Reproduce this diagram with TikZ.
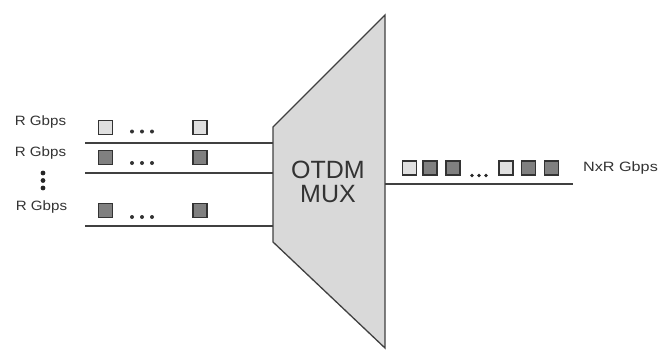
\documentclass[tikz,border=0pt]{standalone}
\usepackage{fontspec}
\setmainfont{Liberation Sans}
\begin{document}
\begin{tikzpicture}[x=1pt,y=-1pt,
  wire/.style={draw=black!75,line width=1.5pt},
  lsq/.style={draw=black!80,fill=black!12,line width=1.1pt,minimum size=14pt,inner sep=0pt},
  dsq/.style={draw=black!80,fill=black!50,line width=1.1pt,minimum size=14pt,inner sep=0pt},
  lbl/.style={font=\fontsize{13.5}{15}\selectfont,text=black!80,inner sep=0pt}]
\useasboundingbox (0,0) rectangle (660,351);
% MUX trapezoid
\draw[draw=black!75,fill=black!15,line width=1.3pt] (273,127) -- (385,15) -- (385,348) -- (273,242) -- cycle;
\node[font=\fontsize{25}{24}\selectfont,text=black!80,align=center,inner sep=0pt] (mux) at (328,182) {OTDM\\MUX};
% input wires
\coordinate (i1a) at (85,143); \coordinate (i1b) at (273,143);
\coordinate (i2a) at (85,173); \coordinate (i2b) at (273,173);
\coordinate (i3a) at (85,226); \coordinate (i3b) at (273,226);
\draw[wire] (i1a) -- (i1b);
\draw[wire] (i2a) -- (i2b);
\draw[wire] (i3a) -- (i3b);
% labels
\node[lbl] (l1) at (40.5,122) {\scalebox{1.12}[1]{R Gbps}};
\node[lbl] (l2) at (40.5,153) {\scalebox{1.12}[1]{R Gbps}};
\node[lbl] (l3) at (41.5,207) {\scalebox{1.12}[1]{R Gbps}};
\foreach \yy in {173,180.5,188} \fill[black!85] (43,\yy) circle (2.4pt);
% row squares
\node[lsq] (a1) at (105.5,127.5) {}; \node[lsq] (a2) at (200,127.5) {};
\node[dsq] (b1) at (105.5,157.5) {}; \node[dsq] (b2) at (200,157.5) {};
\node[dsq] (c1) at (105.5,210.5) {}; \node[dsq] (c2) at (200,210.5) {};
\foreach \yy in {131.5,163,217} {
  \foreach \xx in {132,142,152} \fill[black!80] (\xx,\yy) circle (2pt);
}
% output
\coordinate (o1) at (385,184); \coordinate (o2) at (573,184);
\draw[wire] (o1) -- (o2);
\node[lsq] (s1) at (409.5,168) {};
\node[dsq] (s2) at (430,168) {};
\node[dsq] (s3) at (453,168) {};
\foreach \xx in {472,479,486} \fill[black!85] (\xx,175.5) circle (1.9pt);
\node[lsq] (s4) at (506,168) {};
\node[dsq] (s5) at (528.5,168) {};
\node[dsq] (s6) at (551.5,168) {};
\node[lbl] (lo) at (620.5,168) {\scalebox{1.2}[1]{NxR Gbps}};
\end{tikzpicture}
\end{document}
